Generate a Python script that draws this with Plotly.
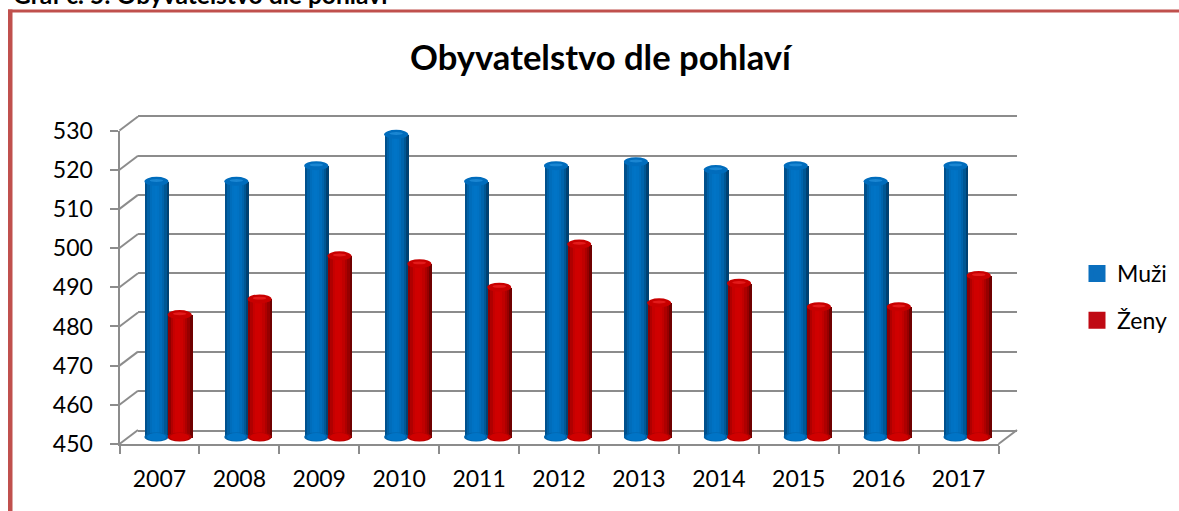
import plotly.graph_objects as go

years = ["2007","2008","2009","2010","2011","2012","2013","2014","2015","2016","2017"]
muzi = [516,516,520,528,516,520,521,519,520,516,520]
zeny = [482,486,497,495,489,500,485,490,484,484,492]
y_ticks = [450,460,470,480,490,500,510,520,530]

W, H = 1179, 511
FONT = "Lato"
GRID = "#8c8c8c"
# frame geometry in px
FL, FR, FT, FB = 119.5, 998.5, 130.5, 444.0   # front plane
DX, DY = 18.5, 14.0                            # depth offset of back wall
BX, BY = 9.0, 4.0                              # offset of bar plane
BAR_BOTTOM = 437.0                             # centre of the bottom ellipse
PX_PER_UNIT = (FB - FT) / 80.0

def xd(a, b): return [a / W, b / W]
def yd(top, bot): return [1 - bot / H, 1 - top / H]

blue_stops = ["#00508c","#0062a8","#006dbb","#0072c3","#0074c6","#0072c3","#006dbb","#0064ac","#005794","#004172"]
red_stops  = ["#8f0000","#b00000","#c60000","#cf0000","#d00000","#cc0000","#c00000","#ad0000","#960000","#6f0000"]
N = len(blue_stops)
cat_px = (FR - FL) / len(years)
bar_w = 24.0 / cat_px
strip = bar_w / N

# the bar plane starts at the bottom ellipse's centre and keeps room below it for the ellipse
cap_h = 4.5 / PX_PER_UNIT
bottom_y = 450 + (FB - BY - BAR_BOTTOM) / PX_PER_UNIT
plane_low = 530 - (FB - (FT - BY)) / PX_PER_UNIT

fig = go.Figure()
# front axes and back wall carriers come first so the bars are drawn over them
fig.add_trace(go.Scatter(x=years, y=muzi, mode="none", showlegend=False, xaxis="x", yaxis="y", hoverinfo="skip"))
fig.add_trace(go.Scatter(x=[0, 1], y=[450, 530], mode="none", showlegend=False, xaxis="x2", yaxis="y2", hoverinfo="skip"))
for name, vals, cols, start, legend_col in (("Muži", muzi, blue_stops, -bar_w, "#0a6fbe"), ("Ženy", zeny, red_stops, -0.01, "#c00a14")):
    for i, c in enumerate(cols):
        fig.add_trace(go.Bar(
            x=years, y=[v - bottom_y for v in vals], base=bottom_y, name=name, legendgroup=name, showlegend=False,
            offset=start + i * strip, width=strip * 1.15,
            marker=dict(color=c, line_width=0),
            xaxis="x3", yaxis="y3", customdata=vals, hovertemplate="%{x}: %{customdata}<extra>" + name + "</extra>",
        ))
    # legend key: an empty bar whose outline enlarges the key to the reference's size
    fig.add_trace(go.Bar(x=[years[0]], y=[None], name=name, legendgroup=name, showlegend=True,
                         marker=dict(color=legend_col, line=dict(color=legend_col, width=5)),
                         xaxis="x3", yaxis="y3", hoverinfo="skip"))

shapes = []
for idx, (m, z) in enumerate(zip(muzi, zeny)):
    for v, lo, cols, fill, light in ((m, -bar_w, blue_stops, "#006cbc", "#1a86d2"), (z, -0.01, red_stops, "#c80000", "#e31a1a")):
        # bottom of the cylinder: an ellipse per strip-shaded half so the rounded base keeps the shading
        shapes.append(dict(type="circle", xref="x3", yref="y3", x0=idx + lo, x1=idx + lo + bar_w,
                           y0=bottom_y - cap_h, y1=bottom_y + cap_h, fillcolor=cols[1], line_width=0, layer="above"))
        shapes.append(dict(type="circle", xref="x3", yref="y3", x0=idx + lo + bar_w * 0.1, x1=idx + lo + bar_w * 0.9,
                           y0=bottom_y - cap_h * 0.9, y1=bottom_y + cap_h * 0.9, fillcolor=cols[4], line_width=0, layer="above"))
        shapes.append(dict(type="circle", xref="x3", yref="y3", x0=idx + lo, x1=idx + lo + bar_w,
                           y0=v - cap_h, y1=v + cap_h, fillcolor=fill, line_width=0, layer="above"))
        shapes.append(dict(type="circle", xref="x3", yref="y3", x0=idx + lo + bar_w * 0.22, x1=idx + lo + bar_w * 0.78,
                           y0=v - cap_h * 0.15, y1=v + cap_h * 0.5, fillcolor=light, line_width=0, layer="above"))

# oblique floor/wall connectors, from each tick on the front plane to the back wall
for t in y_ticks:
    y0 = FB - (t - 450) * PX_PER_UNIT
    shapes.append(dict(type="line", xref="paper", yref="paper", x0=FL / W, x1=(FL + DX) / W,
                       y0=1 - y0 / H, y1=1 - (y0 - DY) / H, line=dict(color=GRID, width=2), layer="below"))
shapes.append(dict(type="line", xref="paper", yref="paper", x0=FR / W, x1=(FR + DX) / W,
                   y0=1 - FB / H, y1=1 - (FB - DY) / H, line=dict(color=GRID, width=2), layer="below"))
# page frame
RED = "#c0504d"
shapes.append(dict(type="rect", xref="paper", yref="paper", x0=8 / W, x1=12.5 / W, y0=0, y1=1 - 9.5 / H,
                   fillcolor=RED, line_width=0))
shapes.append(dict(type="rect", xref="paper", yref="paper", x0=8 / W, x1=1, y0=1 - 12.5 / H, y1=1 - 9.5 / H,
                   fillcolor=RED, line_width=0))

tick_font = dict(family=FONT, size=23, color="#000000")
fig.update_layout(
    width=W, height=H, autosize=False, margin=dict(l=0, r=0, t=0, b=0, autoexpand=False),
    paper_bgcolor="white", plot_bgcolor="rgba(0,0,0,0)", barmode="overlay", bargap=0,
    shapes=shapes,
    showlegend=True,
    legend=dict(x=1077 / W, y=1 - 252 / H, xanchor="left", yanchor="top", bgcolor="rgba(0,0,0,0)",
                font=dict(family=FONT, size=23, color="#000000"), itemwidth=30, tracegroupgap=14,
                traceorder="grouped"),
    xaxis=dict(domain=xd(FL, FR), anchor="y", type="category", categoryorder="array", categoryarray=years,
               range=[-0.5, 10.5], showgrid=False, showline=True, linecolor=GRID, linewidth=2,
               ticks="outside", ticklen=8, tickwidth=2, tickcolor=GRID, tickson="boundaries",
               tickfont=tick_font, ticklabelstandoff=13),
    yaxis=dict(domain=yd(FT, FB), anchor="x", range=[450, 530], tickvals=y_ticks, showgrid=False,
               showline=True, linecolor=GRID, linewidth=2, ticks="outside", ticklen=8, tickwidth=2,
               tickcolor=GRID, tickfont=tick_font, ticklabelstandoff=12, zeroline=False),
    xaxis2=dict(domain=xd(FL + DX, FR + DX), anchor="y2", range=[0, 1], showgrid=False, showticklabels=False,
                ticks="", showline=True, mirror=True, linecolor=GRID, linewidth=2, zeroline=False),
    yaxis2=dict(domain=yd(FT - DY, FB - DY), anchor="x2", range=[450, 530], tickvals=y_ticks,
                showgrid=True, gridcolor=GRID, gridwidth=2, showticklabels=False, ticks="", showline=False, zeroline=False),
    xaxis3=dict(domain=xd(FL + BX, FR + BX), anchor="y3", type="category",
                categoryorder="array", categoryarray=years, range=[-0.5, 10.5], visible=False),
    yaxis3=dict(domain=yd(FT - BY, FB), anchor="x3", range=[plane_low, 530], visible=False),
    annotations=[
        dict(text="<b>Obyvatelstvo dle pohlaví</b>", xref="paper", yref="paper", x=601.5 / W, y=1 - 56 / H,
             xanchor="center", yanchor="middle", showarrow=False, font=dict(family=FONT, size=34.6, color="#000000")),
        dict(text="<b>Graf č. 5: Obyvatelstvo dle pohlaví</b>", xref="paper", yref="paper", x=12 / W, y=1 - 10 / H,
             xanchor="left", yanchor="bottom", showarrow=False, font=dict(family=FONT, size=24.6, color="#000000"),
             borderpad=0),
    ],
)

fig.write_html("out.html", config={"displayModeBar": False},
               post_script="document.body.style.margin='0';document.body.style.overflow='hidden';")
